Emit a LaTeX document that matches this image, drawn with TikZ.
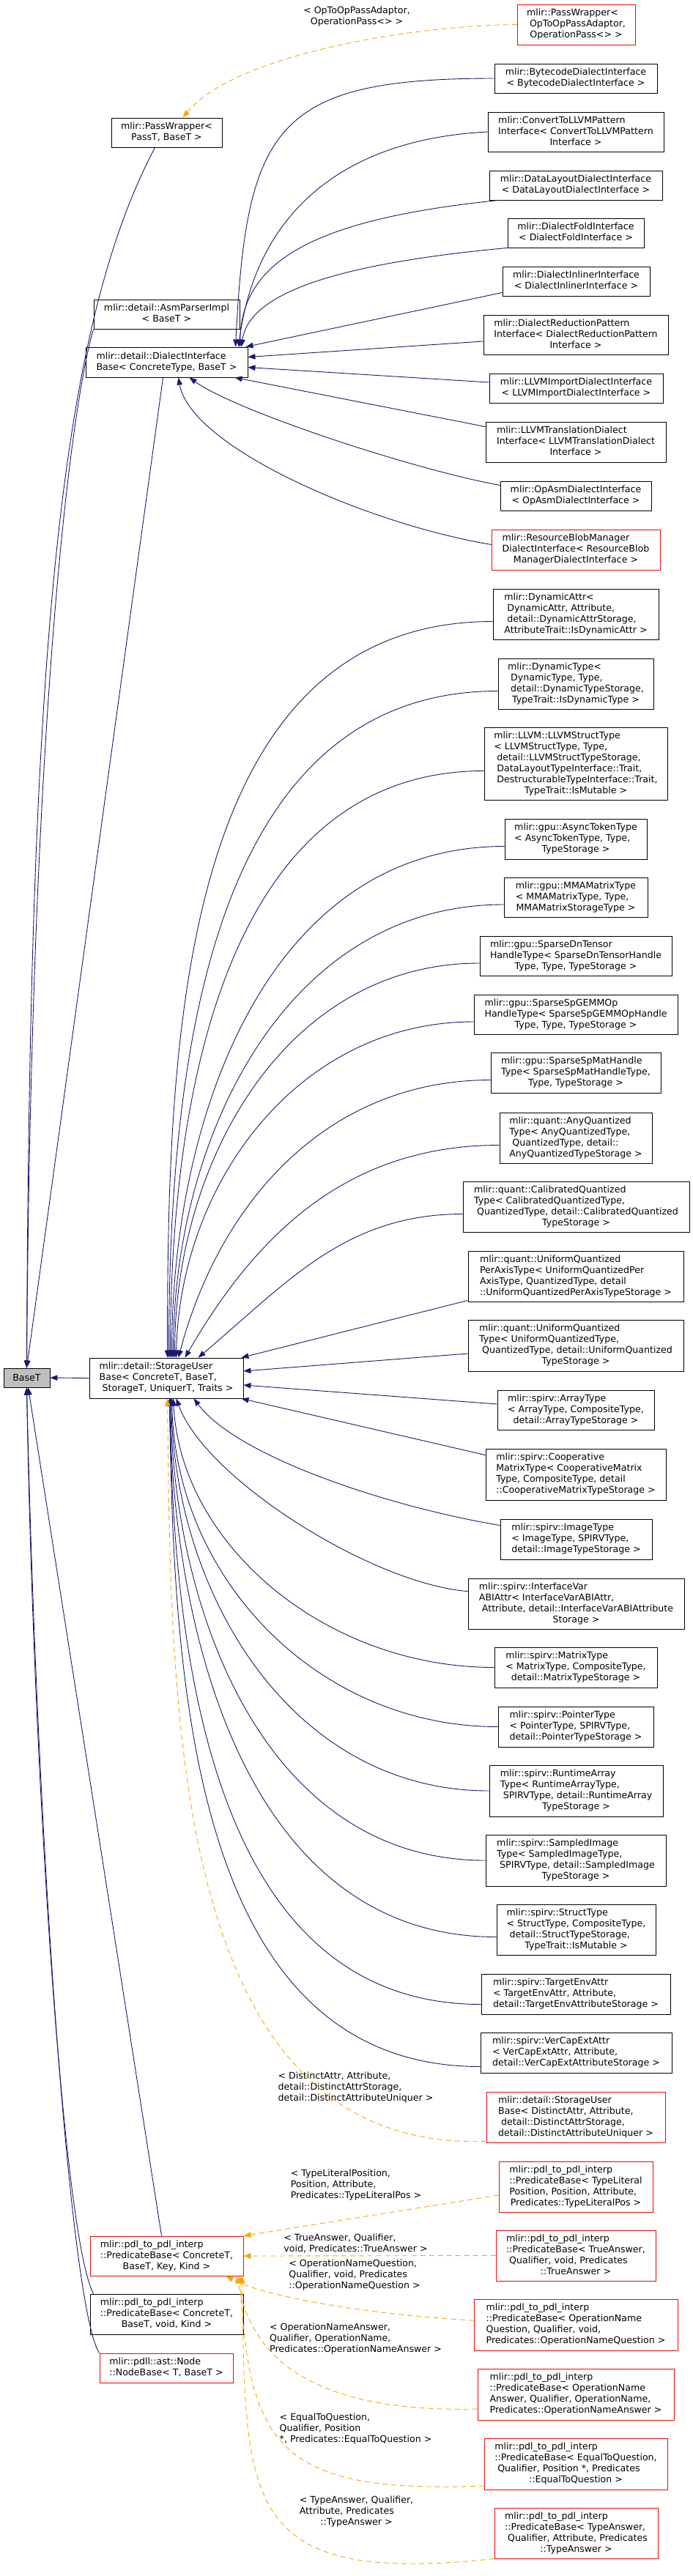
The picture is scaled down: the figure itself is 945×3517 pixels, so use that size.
\documentclass[tikz,border=0pt]{standalone}
\usepackage{fontspec}
\setmainfont{DejaVu Sans}
\usetikzlibrary{arrows.meta,calc}
\definecolor{edgeblue}{HTML}{191970}
\definecolor{edgeorange}{HTML}{FFA500}
\definecolor{boxred}{HTML}{FF0000}
\definecolor{basegray}{HTML}{BFBFBF}
\newcommand{\dlbl}[2]{\begin{tabular}{@{}l@{}}#1\\\multicolumn{1}{@{}c@{}}{#2}\end{tabular}}
\newcommand{\cls}[7]{\node[#1, minimum width=#4pt, minimum height=#5pt] (#2) at (#3) {\dlbl{#6}{#7}};}
\begin{document}
\begin{tikzpicture}[x=1pt,y=-1pt,
  cbox/.style={draw=black, fill=white, line width=0.9pt, inner xsep=3pt, inner ysep=2pt, font=\fontsize{12.6}{15}\selectfont},
  rbox/.style={cbox, draw=boxred},
  gbox/.style={cbox, fill=basegray},
  elbl/.style={inner sep=0pt, font=\fontsize{12.6}{15}\selectfont},
  inh/.style={draw=edgeblue, line width=0.9pt, -{Triangle[length=10pt,width=7.5pt]}},
  tmpl/.style={draw=edgeorange, line width=0.9pt, dash pattern=on 7pt off 5pt, -{Triangle[length=10pt,width=7.5pt]}}]
\fill[white] (0,0) rectangle (945,3517);
\useasboundingbox (0,0) rectangle (945,3517);

% ---------------- nodes ----------------
\cls{rbox}{pwop}{786.5,33.5}{161}{55}{mlir::PassWrapper<\\\ OpToOpPassAdaptor,}{OperationPass<> >}
\cls{cbox}{pw}{227.5,181}{151}{40}{mlir::PassWrapper<}{PassT, BaseT >}
\cls{cbox}{bytecode}{786,107}{222}{40}{mlir::BytecodeDialectInterface}{< BytecodeDialectInterface >}
\cls{cbox}{convert}{786,180}{240}{54}{mlir::ConvertToLLVMPattern\\Interface< ConvertToLLVMPattern}{Interface >}
\cls{cbox}{datalayout}{786,253}{236}{40}{mlir::DataLayoutDialectInterface}{< DataLayoutDialectInterface >}
\cls{cbox}{dialectfold}{786,318}{186}{40}{mlir::DialectFoldInterface}{< DialectFoldInterface >}
\cls{cbox}{inliner}{786.5,384}{201}{40}{mlir::DialectInlinerInterface}{< DialectInlinerInterface >}
\cls{cbox}{asmparser}{227.5,429}{199}{40}{mlir::detail::AsmParserImpl}{< BaseT >}
\cls{cbox}{dib}{227.5,494.5}{221}{41}{mlir::detail::DialectInterface}{Base< ConcreteType, BaseT >}
\cls{cbox}{reduction}{786,457}{252}{54}{mlir::DialectReductionPattern\\Interface< DialectReductionPattern}{Interface >}
\cls{cbox}{llvmimport}{786.5,530}{237}{40}{mlir::LLVMImportDialectInterface}{< LLVMImportDialectInterface >}
\cls{cbox}{llvmtrans}{786,603.5}{246}{55}{mlir::LLVMTranslationDialect\\Interface< LLVMTranslationDialect}{Interface >}
\cls{cbox}{opasm}{786,677}{206}{40}{mlir::OpAsmDialectInterface}{< OpAsmDialectInterface >}
\cls{rbox}{resblob}{786,750.5}{230}{55}{mlir::ResourceBlobManager\\DialectInterface< ResourceBlob}{ManagerDialectInterface >}
\cls{cbox}{dynattr}{786,838.5}{226}{69}{mlir::DynamicAttr<\\\ DynamicAttr, Attribute,\\\ detail::DynamicAttrStorage,}{AttributeTrait::IsDynamicAttr >}
\cls{cbox}{dyntype}{786,933.5}{212}{69}{mlir::DynamicType<\\\ DynamicType, Type,\\\ detail::DynamicTypeStorage,}{TypeTrait::IsDynamicType >}
\cls{cbox}{llvmstruct}{786,1042.5}{250}{99}{mlir::LLVM::LLVMStructType\\< LLVMStructType, Type,\\\ detail::LLVMStructTypeStorage,\\\ DataLayoutTypeInterface::Trait,\\\ DestructurableTypeInterface::Trait,}{TypeTrait::IsMutable >}
\cls{cbox}{asynctoken}{786,1145.5}{194}{55}{mlir::gpu::AsyncTokenType\\< AsyncTokenType, Type,}{TypeStorage >}
\cls{cbox}{mma}{786,1225}{196}{54}{mlir::gpu::MMAMatrixType\\< MMAMatrixType, Type,}{MMAMatrixStorageType >}
\cls{cbox}{sparsedn}{786,1305}{262}{54}{mlir::gpu::SparseDnTensor\\HandleType< SparseDnTensorHandle}{Type, Type, TypeStorage >}
\cls{cbox}{sparsegemm}{786,1385}{278}{54}{mlir::gpu::SparseSpGEMMOp\\HandleType< SparseSpGEMMOpHandle}{Type, Type, TypeStorage >}
\cls{cbox}{sparsemat}{786,1464.5}{232}{55}{mlir::gpu::SparseSpMatHandle\\Type< SparseSpMatHandleType,}{Type, TypeStorage >}
\cls{cbox}{anyquant}{786,1553.5}{208}{69}{mlir::quant::AnyQuantized\\Type< AnyQuantizedType,\\\ QuantizedType, detail::}{AnyQuantizedTypeStorage >}
\cls{cbox}{calib}{786.5,1647.5}{309}{69}{mlir::quant::CalibratedQuantized\\Type< CalibratedQuantizedType,\\\ QuantizedType, detail::CalibratedQuantized}{TypeStorage >}
\cls{cbox}{uqperaxis}{786,1742.5}{294}{69}{mlir::quant::UniformQuantized\\PerAxisType< UniformQuantizedPer\\AxisType, QuantizedType, detail}{::UniformQuantizedPerAxisTypeStorage >}
\cls{cbox}{uq}{786,1837}{294}{70}{mlir::quant::UniformQuantized\\Type< UniformQuantizedType,\\\ QuantizedType, detail::UniformQuantized}{TypeStorage >}
\node[gbox, minimum width=63pt, minimum height=26pt] (baset) at (36.5,1881) {BaseT};
\cls{cbox}{sub}{227,1881.5}{210}{55}{mlir::detail::StorageUser\\Base< ConcreteT, BaseT,}{\ StorageT, UniquerT, Traits >}
\cls{cbox}{array}{786,1925}{214}{54}{mlir::spirv::ArrayType\\< ArrayType, CompositeType,}{detail::ArrayTypeStorage >}
\cls{cbox}{coop}{786,2013}{246}{70}{mlir::spirv::Cooperative\\MatrixType< CooperativeMatrix\\Type, CompositeType, detail}{::CooperativeMatrixTypeStorage >}
\cls{cbox}{image}{786.5,2101.5}{207}{55}{mlir::spirv::ImageType\\< ImageType, SPIRVType,}{detail::ImageTypeStorage >}
\cls{cbox}{ivar}{786.5,2189.5}{295}{69}{mlir::spirv::InterfaceVar\\ABIAttr< InterfaceVarABIAttr,\\\ Attribute, detail::InterfaceVarABIAttribute}{Storage >}
\cls{cbox}{matrix}{786,2276.5}{222}{55}{mlir::spirv::MatrixType\\< MatrixType, CompositeType,}{detail::MatrixTypeStorage >}
\cls{cbox}{pointer}{786,2357.5}{212}{55}{mlir::spirv::PointerType\\< PointerType, SPIRVType,}{detail::PointerTypeStorage >}
\cls{cbox}{runtime}{786.5,2445}{237}{70}{mlir::spirv::RuntimeArray\\Type< RuntimeArrayType,\\\ SPIRVType, detail::RuntimeArray}{TypeStorage >}
\cls{cbox}{sampled}{786,2540}{246}{70}{mlir::spirv::SampledImage\\Type< SampledImageType,\\\ SPIRVType, detail::SampledImage}{TypeStorage >}
\cls{cbox}{struct}{786.5,2634.5}{217}{69}{mlir::spirv::StructType\\< StructType, CompositeType,\\\ detail::StructTypeStorage,}{TypeTrait::IsMutable >}
\cls{cbox}{targetenv}{786,2722.5}{258}{55}{mlir::spirv::TargetEnvAttr\\< TargetEnvAttr, Attribute,}{detail::TargetEnvAttributeStorage >}
\cls{cbox}{vercap}{786.5,2802.5}{261}{55}{mlir::spirv::VerCapExtAttr\\< VerCapExtAttr, Attribute,}{detail::VerCapExtAttributeStorage >}
\cls{rbox}{subdist}{786,2890.5}{244}{69}{mlir::detail::StorageUser\\Base< DistinctAttr, Attribute,\\\ detail::DistinctAttrStorage,}{detail::DistinctAttributeUniquer >}
\cls{rbox}{typelit}{786,2985.5}{210}{69}{mlir::pdl\_to\_pdl\_interp\\::PredicateBase< TypeLiteral\\Position, Position, Attribute,}{Predicates::TypeLiteralPos >}
\cls{rbox}{pb}{227.5,3080}{209}{54}{mlir::pdl\_to\_pdl\_interp\\::PredicateBase< ConcreteT,}{BaseT, Key, Kind >}
\cls{rbox}{truea}{786,3079.5}{218}{69}{mlir::pdl\_to\_pdl\_interp\\::PredicateBase< TrueAnswer,\\\ Qualifier, void, Predicates}{::TrueAnswer >}
\cls{cbox}{pbvoid}{227.5,3159.5}{209}{55}{mlir::pdl\_to\_pdl\_interp\\::PredicateBase< ConcreteT,}{BaseT, void, Kind >}
\cls{rbox}{opnq}{786,3174}{278}{70}{mlir::pdl\_to\_pdl\_interp\\::PredicateBase< OperationName\\Question, Qualifier, void,}{Predicates::OperationNameQuestion >}
\cls{rbox}{nodebase}{227,3233}{182}{40}{mlir::pdll::ast::Node}{::NodeBase< T, BaseT >}
\cls{rbox}{opna}{786,3269}{268}{70}{mlir::pdl\_to\_pdl\_interp\\::PredicateBase< OperationName\\Answer, Qualifier, OperationName,}{Predicates::OperationNameAnswer >}
\cls{rbox}{equalto}{786,3364}{250}{70}{mlir::pdl\_to\_pdl\_interp\\::PredicateBase< EqualToQuestion,\\\ Qualifier, Position *, Predicates}{::EqualToQuestion >}
\cls{rbox}{typeans}{786.5,3458.5}{223}{69}{mlir::pdl\_to\_pdl\_interp\\::PredicateBase< TypeAnswer,\\\ Qualifier, Attribute, Predicates}{::TypeAnswer >}

% ---------------- edge labels ----------------
\node[elbl] (l1) at (487,23) {\dlbl{< OpToOpPassAdaptor,}{OperationPass<> >}};
\node[elbl] (l2) at (485.5,2850) {\dlbl{< DistinctAttr, Attribute,\\detail::DistinctAttrStorage,}{detail::DistinctAttributeUniquer >}};
\node[elbl] (l3) at (486,2983) {\dlbl{< TypeLiteralPosition,\\Position, Attribute,}{Predicates::TypeLiteralPos >}};
\node[elbl] (l4) at (485.5,3064) {\dlbl{< TrueAnswer, Qualifier,}{void, Predicates::TrueAnswer >}};
\node[elbl] (l5) at (484,3106) {\dlbl{< OperationNameQuestion,\\Qualifier, void, Predicates}{::OperationNameQuestion >}};
\node[elbl] (l6) at (485.5,3193) {\dlbl{< OperationNameAnswer,\\Qualifier, OperationName,}{Predicates::OperationNameAnswer >}};
\node[elbl] (l7) at (485.5,3316) {\dlbl{< EqualToQuestion,\\Qualifier, Position}{*, Predicates::EqualToQuestion >}};
\node[elbl] (l8) at (486.5,3429) {\dlbl{< TypeAnswer, Qualifier,\\Attribute, Predicates}{::TypeAnswer >}};

% ---------------- edges ----------------
\draw[tmpl] (pwop.west) .. controls (560,35) and (320,75) .. ($(pw.north west)+(98,0)$);

% to BaseT from above
\draw[inh] ($(pw.south west)+(60,0)$) .. controls (80,450) and (40,900) .. (baset.north);
\draw[inh] (asmparser.south west) .. controls (95,560) and (42,1000) .. (baset.north);
\draw[inh] ($(dib.south west)+(106,0)$) -- (baset.north);
\draw[inh] (sub.west) -- (baset.east);
% to BaseT from below
\draw[inh] ($(pb.north west)+(98,0)$) -- ($(baset.south)+(2,0)$);
\draw[inh] ($(pbvoid.north west)+(5,0)$) .. controls (85,3050) and (45,2400) .. (baset.south);
\draw[inh] (nodebase.north west) .. controls (95,3150) and (50,2500) .. (baset.south);

% to DialectInterfaceBase
\draw[inh] (bytecode.west) .. controls +(-300,0) and +(15,-300) .. ($(dib.north west)+(205,0)$);
\draw[inh] (convert.west) .. controls +(-196,10) and +(24,-184) .. ($(dib.north west)+(209,0)$);
\draw[inh] ($(datalayout.south west)+(13,0)$) .. controls (420,300) and (330,360) .. ($(dib.north west)+(211,0)$);
\draw[inh] (dialectfold.south west) .. controls (460,360) and (340,400) .. ($(dib.north west)+(213,0)$);
\draw[inh] ($(inliner.south west)+(0,-5)$) -- ($(dib.north east)+(-3,0)$);
\draw[inh] ($(reduction.west)+(0,9)$) -- ($(dib.east)+(0,-7)$);
\draw[inh] ($(llvmimport.west)+(0,-8)$) -- ($(dib.east)+(0,7)$);
\draw[inh] ($(llvmtrans.north west)+(0,7)$) -- ($(dib.south east)+(-18,0)$);
\draw[inh] ($(opasm.north west)+(0,6)$) .. controls (560,640) and (320,560) .. ($(dib.south west)+(142,0)$);
\draw[inh] ($(resblob.west)+(0,-7)$) .. controls (500,715) and (260,610) .. ($(dib.south west)+(127,0)$);

% to StorageUserBase, from above
\draw[inh] ($(dynattr.west)+(0,10)$) .. controls +(-429,0) and +(0,-429) .. ($(sub.north west)+(107,0)$);
\draw[inh] ($(dyntype.west)+(0,10)$) .. controls +(-396,0) and +(0,-396) .. ($(sub.north west)+(109,0)$);
\draw[inh] ($(llvmstruct.west)+(0,10)$) .. controls +(-354,0) and +(0,-354) .. ($(sub.north west)+(111,0)$);
\draw[inh] ($(asynctoken.west)+(0,10)$) .. controls +(-325,0) and +(0,-325) .. ($(sub.north west)+(113,0)$);
\draw[inh] ($(mma.west)+(0,10)$) .. controls +(-299,0) and +(0,-299) .. ($(sub.north west)+(115,0)$);
\draw[inh] ($(sparsedn.west)+(0,10)$) .. controls +(-266,0) and +(0,-266) .. ($(sub.north west)+(117,0)$);
\draw[inh] ($(sparsegemm.west)+(0,10)$) .. controls +(-239,0) and +(5,-239) .. ($(sub.north west)+(119,0)$);
\draw[inh] ($(sparsemat.west)+(0,10)$) .. controls +(-222,0) and +(57,-214) .. ($(sub.north west)+(122,0)$);
\draw[inh] ($(anyquant.west)+(0,10)$) .. controls +(-202,0) and +(101,-175) .. ($(sub.north west)+(131,0)$);
\draw[inh] ($(calib.west)+(0,10)$) .. controls +(-160,0) and +(122,-103) .. ($(sub.north west)+(149,0)$);
\draw[inh] ($(uqperaxis.south west)+(0,-2)$) -- ($(sub.north east)+(-3,0)$);
% from the right
\draw[inh] ($(uq.west)+(0,11)$) -- ($(sub.east)+(0,-9.5)$);
\draw[inh] ($(array.west)+(0,-8)$) -- ($(sub.east)+(0,9.5)$);
\draw[inh] ($(coop.north west)+(0,9)$) -- ($(sub.south east)+(-3,0)$);
% from below
\draw[inh] ($(image.north west)+(0,9)$) .. controls +(-150,-25) and +(60,80) .. ($(sub.south west)+(143,0)$);
\draw[inh] ($(ivar.north west)+(0,18)$) .. controls +(-130,-10) and +(40,110) .. ($(sub.south west)+(119,0)$);
\draw[inh] (matrix.west) .. controls +(-230,0) and +(10,200) .. ($(sub.south west)+(115,0)$);
\draw[inh] (pointer.west) .. controls +(-246,0) and +(5,246) .. ($(sub.south west)+(113,0)$);
\draw[inh] (runtime.west) .. controls +(-269,0) and +(5,269) .. ($(sub.south west)+(112,0)$);
\draw[inh] (sampled.west) .. controls +(-298,0) and +(5,298) .. ($(sub.south west)+(111,0)$);
\draw[inh] ($(struct.west)+(0,10)$) .. controls +(-335,0) and +(5,335) .. ($(sub.south west)+(110,0)$);
\draw[inh] ($(targetenv.west)+(0,14)$) .. controls +(-363,0) and +(5,363) .. ($(sub.south west)+(110,0)$);
\draw[inh] ($(vercap.west)+(0,19)$) .. controls +(-392,0) and +(5,392) .. ($(sub.south west)+(110,0)$);
\draw[tmpl] ($(subdist.south west)+(0,-2)$) .. controls +(-430,15) and +(5,430) .. ($(sub.south west)+(107,0)$);

% to PredicateBase
\draw[tmpl] ($(typelit.west)+(0,11.5)$) -- (pb.north east);
\draw[tmpl] (truea.west) -- (pb.east);
\draw[tmpl] ($(opnq.west)+(0,-6)$) .. controls (500,3160) and (360,3135) .. ($(pb.south east)+(-24,0)$);
\draw[tmpl] ($(opna.west)+(0,20)$) .. controls (400,3295) and (340,3200) .. ($(pb.south east)+(-9,0)$);
\draw[tmpl] ($(equalto.west)+(0,30)$) .. controls (380,3405) and (340,3340) .. ($(pb.south east)+(-5,0)$);
\draw[tmpl] (typeans.south west) .. controls (330,3530) and (335,3420) .. ($(pb.south east)+(-2,0)$);
\end{tikzpicture}
\end{document}
